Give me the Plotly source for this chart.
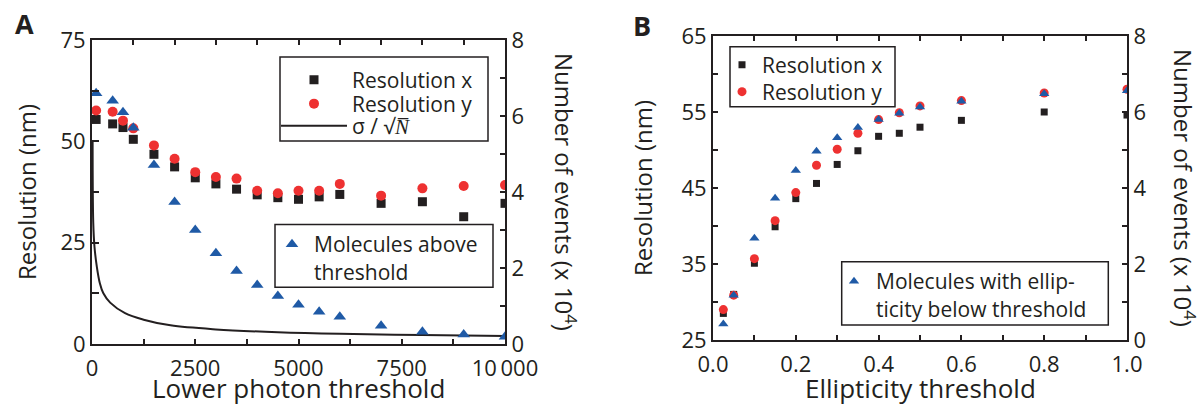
import plotly.graph_objects as go

W, H = 1203, 405
INK = "#231f20"
RED = "#ee3131"
BLUE = "#1f5aa6"
FONT = "Open Sans"

# ---- Panel A: scan of the lower photon threshold ----
photon_threshold = [100, 500, 750, 1000, 1500, 2000, 2500, 3000, 3500, 4000,
                    4500, 5000, 5500, 6000, 7000, 8000, 9000, 10000]
res_x_a = [55.4, 54.3, 53.4, 50.5, 46.8, 43.7, 41.0, 39.5, 38.2, 36.8,
           36.1, 35.7, 36.3, 36.9, 34.7, 35.1, 31.4, 34.7]
res_y_a = [57.6, 57.3, 55.1, 53.2, 49.0, 45.7, 42.4, 41.2, 40.8, 37.8,
           37.2, 37.8, 37.8, 39.5, 36.6, 38.4, 39.0, 39.2]
molecules_a = [6.6, 6.4, 6.1, 5.69, 4.71, 3.74, 3.0, 2.39, 1.92, 1.55,
               1.26, 1.03, 0.85, 0.72, 0.48, 0.32, 0.25, 0.19]

# sigma / sqrt(N) limit, sampled along the photon axis
limit_photons = [15, 30, 60, 115, 190, 275, 440, 800, 1250, 1900, 3000,
                 4500, 6000, 8000, 10000]
limit_res = [50, 30, 24, 19.2, 15, 12.5, 10.2, 7.6, 6.0, 4.6, 3.6,
             2.9, 2.5, 2.2, 2.0]

# ---- Panel B: scan of the ellipticity threshold ----
ellipticity = [0.025, 0.05, 0.1, 0.15, 0.2, 0.25, 0.3, 0.35, 0.4, 0.45,
               0.5, 0.6, 0.8, 1.0]
res_x_b = [28.5, 31.0, 35.1, 39.9, 43.6, 45.6, 48.1, 49.9, 51.8, 52.2,
           53.0, 53.9, 55.0, 54.6]
res_y_b = [29.0, 30.9, 35.7, 40.7, 44.4, 48.0, 50.1, 52.2, 54.0, 54.9,
           55.8, 56.5, 57.5, 58.0]
molecules_b = [0.42, 1.18, 2.68, 3.73, 4.46, 4.97, 5.32, 5.59, 5.8, 5.97,
               6.13, 6.28, 6.48, 6.56]

x_ticks_a = [0, 2500, 5000, 7500, 10000]
x_ticktext_a = ["0", "2500", "5000", "7500", "10\u2009000"]
y_ticks_a = [0, 25, 50, 75]
y_ticks_b = [25, 35, 45, 55, 65]
count_ticks = [0, 2, 4, 6, 8]


def px_x(p):
    return p / W


def px_y(p):
    return 1 - p / H


fig = go.Figure()

# Panel A traces
fig.add_trace(go.Scatter(x=photon_threshold, y=res_x_a, mode="markers", name="Resolution x",
                         marker=dict(symbol="square", size=9, color=INK),
                         xaxis="x", yaxis="y", legend="legend", showlegend=True))
fig.add_trace(go.Scatter(x=photon_threshold, y=res_y_a, mode="markers", name="Resolution y",
                         marker=dict(symbol="circle", size=10, color=RED),
                         xaxis="x", yaxis="y", legend="legend2", showlegend=True))
fig.add_trace(go.Scatter(x=limit_photons, y=limit_res, mode="lines",
                         name="\u03c3 / \u221a<i>N\u0305</i>",
                         line=dict(color=INK, width=2, shape="spline", smoothing=1.0),
                         xaxis="x", yaxis="y", legend="legend3", showlegend=True))
fig.add_trace(go.Scatter(x=photon_threshold, y=molecules_a, mode="markers",
                         name="Molecules above<br>threshold",
                         marker=dict(symbol="triangle-up", size=11, color=BLUE),
                         xaxis="x3", yaxis="y2", legend="legend4", showlegend=True))

# Panel B traces
fig.add_trace(go.Scatter(x=ellipticity, y=res_x_b, mode="markers", name="Resolution x",
                         marker=dict(symbol="square", size=7, color=INK),
                         xaxis="x2", yaxis="y3", legend="legend5", showlegend=True))
fig.add_trace(go.Scatter(x=ellipticity, y=res_y_b, mode="markers", name="Resolution y",
                         marker=dict(symbol="circle", size=9, color=RED),
                         xaxis="x2", yaxis="y3", legend="legend6", showlegend=True))
fig.add_trace(go.Scatter(x=ellipticity, y=molecules_b, mode="markers",
                         name="Molecules with ellip-<br>ticity below threshold",
                         marker=dict(symbol="triangle-up", size=9, color=BLUE),
                         xaxis="x2", yaxis="y4", legend="legend7", showlegend=True))

tickfont = dict(family=FONT, size=22, color=INK)
axis_common = dict(showgrid=False, zeroline=False, showline=True, linewidth=2,
                   linecolor=INK, ticks="inside", tickcolor=INK, tickwidth=1.5,
                   tickfont=tickfont, automargin=False)

dom_ax = [px_x(92), px_x(505)]
dom_ay = [px_y(344), px_y(40)]
dom_bx = [px_x(713), px_x(1127)]
dom_by = [px_y(340), px_y(36)]

fig.update_layout(
    width=W, height=H, margin=dict(l=0, r=0, t=0, b=0, autoexpand=False),
    showlegend=True,
    paper_bgcolor="white", plot_bgcolor="white",
    font=dict(family=FONT, color=INK),
    xaxis=dict(axis_common, domain=dom_ax, range=[0, 10000], anchor="y",
               tickvals=x_ticks_a, ticktext=x_ticktext_a, ticklen=5, mirror=True,
               ticklabelstandoff=4,
               minor=dict(dtick=1250, tick0=0, ticks="inside", ticklen=5,
                          tickcolor=INK, tickwidth=1.5)),
    xaxis3=dict(axis_common, domain=dom_ax, range=[0, 10000], anchor="y",
                overlaying="x", side="top", dtick=1000, tick0=0, ticklen=5,
                showticklabels=False),
    yaxis=dict(axis_common, domain=dom_ay, range=[0, 75], anchor="x",
               tickvals=y_ticks_a, ticklen=7,
               minor=dict(dtick=12.5, tick0=0, ticks="inside", ticklen=7,
                          tickcolor=INK, tickwidth=1.5)),
    yaxis2=dict(axis_common, domain=dom_ay, range=[0, 8], anchor="x",
                overlaying="y", side="right", tickvals=count_ticks, ticklen=5,
                minor=dict(dtick=1, tick0=0, ticks="inside", ticklen=5,
                           tickcolor=INK, tickwidth=1.5)),
    xaxis2=dict(axis_common, domain=dom_bx, range=[0, 1], anchor="y3",
                dtick=0.2, tick0=0, tickformat=".1f", ticklen=5, mirror="ticks",
                ticklabelstandoff=4,
                minor=dict(dtick=0.1, tick0=0, ticks="inside", ticklen=5,
                           tickcolor=INK, tickwidth=1.5)),
    yaxis3=dict(axis_common, domain=dom_by, range=[25, 65], anchor="x2",
                tickvals=y_ticks_b, ticklen=5,
                minor=dict(dtick=5, tick0=25, ticks="inside", ticklen=5,
                           tickcolor=INK, tickwidth=1.5)),
    yaxis4=dict(axis_common, domain=dom_by, range=[0, 8], anchor="x2",
                overlaying="y3", side="right", tickvals=count_ticks, ticklen=5,
                minor=dict(dtick=1, tick0=0, ticks="inside", ticklen=5,
                           tickcolor=INK, tickwidth=1.5)),
)

legfont = dict(family=FONT, size=21, color=INK)


def legend_at(x_px, y_px, width=30, valign="middle", yanchor="middle"):
    return dict(x=px_x(x_px), y=px_y(y_px), xanchor="left", yanchor=yanchor,
                bgcolor="rgba(0,0,0,0)", borderwidth=0, font=legfont,
                itemwidth=width, valign=valign, itemclick=False,
                itemdoubleclick=False)


fig.update_layout(
    legend=legend_at(276, 80, width=66),
    legend2=legend_at(276, 104, width=66),
    legend3=legend_at(276, 126, width=66),
    legend4=legend_at(270, 224, width=34, valign="top", yanchor="top"),
    legend5=legend_at(722, 65),
    legend6=legend_at(722, 92),
    legend7=legend_at(832, 261, width=34, valign="top", yanchor="top"),
)

# legend frames
frames = [(280, 57, 488, 141), (275, 224.5, 493, 287.3),
          (730, 46.7, 895, 106.7), (841.7, 261.7, 1108.3, 325)]
for x0, y0, x1, y1 in frames:
    fig.add_shape(type="rect", xref="paper", yref="paper",
                  x0=px_x(x0), x1=px_x(x1), y0=px_y(y1), y1=px_y(y0),
                  line=dict(color=INK, width=1.5), fillcolor="rgba(0,0,0,0)",
                  layer="above")

titlefont = dict(family=FONT, size=24, color=INK)
sidefont = dict(family=FONT, size=24, color=INK)
xtitlefont = dict(family=FONT, size=26, color=INK)
notes = [
    ("<b>A</b>", 24, 24, 0, dict(family=FONT, size=27, color=INK)),
    ("<b>B</b>", 642, 25, 0, dict(family=FONT, size=27, color=INK)),
    ("Resolution (nm)", 26, 192, -90, titlefont),
    ("Number of events (x 10<sup>4</sup>)", 566, 192, 90, sidefont),
    ("Lower photon threshold", 298, 388, 0, xtitlefont),
    ("Resolution (nm)", 643, 188, -90, titlefont),
    ("Number of events (x 10<sup>4</sup>)", 1184, 188, 90, sidefont),
    ("Ellipticity threshold", 920, 388, 0, xtitlefont),
]
for text, x, y, ang, f in notes:
    fig.add_annotation(text=text, x=px_x(x), y=px_y(y), xref="paper", yref="paper",
                       xanchor="center", yanchor="middle", showarrow=False,
                       textangle=ang, font=f)

fig.write_html("out.html")
